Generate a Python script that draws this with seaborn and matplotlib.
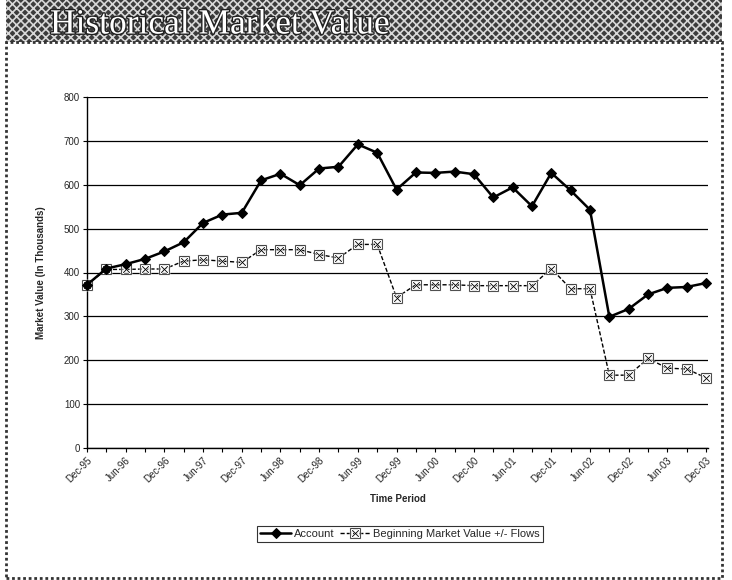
import matplotlib
matplotlib.use('Agg')
import matplotlib.pyplot as plt
import seaborn as sns
import pandas as pd
from matplotlib.patches import Rectangle
import matplotlib.patheffects as pe

quarters = ['Dec-95', 'Mar-96', 'Jun-96', 'Sep-96', 'Dec-96', 'Mar-97', 'Jun-97', 'Sep-97',
            'Dec-97', 'Mar-98', 'Jun-98', 'Sep-98', 'Dec-98', 'Mar-99', 'Jun-99', 'Sep-99',
            'Dec-99', 'Mar-00', 'Jun-00', 'Sep-00', 'Dec-00', 'Mar-01', 'Jun-01', 'Sep-01',
            'Dec-01', 'Mar-02', 'Jun-02', 'Sep-02', 'Dec-02', 'Mar-03', 'Jun-03', 'Sep-03',
            'Dec-03']
account = [372, 409, 419, 431, 448, 469, 513, 532, 536, 610, 625, 599, 637, 641, 692, 673,
           589, 628, 627, 630, 624, 571, 594, 551, 627, 587, 543, 299, 317, 350, 365, 367, 376]
bmv = [372, 407, 407, 408, 408, 426, 429, 426, 423, 452, 452, 452, 441, 433, 464, 464,
       343, 372, 372, 372, 370, 370, 370, 370, 409, 363, 363, 166, 166, 204, 182, 180, 160]
tick_labels = ['Dec-95', 'Jun-96', 'Dec-96', 'Jun-97', 'Dec-97', 'Jun-98', 'Dec-98', 'Jun-99',
               'Dec-99', 'Jun-00', 'Dec-00', 'Jun-01', 'Dec-01', 'Jun-02', 'Dec-02', 'Jun-03',
               'Dec-03']
y_ticks = [0, 100, 200, 300, 400, 500, 600, 700, 800]
series_names = ['Account', 'Beginning Market Value +/- Flows']

sns.set_style('white')
plt.rcParams['font.family'] = ['Liberation Sans', 'DejaVu Sans']
plt.rcParams['hatch.color'] = '#d8d8d8'
plt.rcParams['hatch.linewidth'] = 1.2

df = pd.DataFrame({'q': list(range(len(quarters))) * 2,
                   'value': account + bmv,
                   'series': [series_names[0]] * len(account) + [series_names[1]] * len(bmv)})

W, H = 732, 580
fig = plt.figure(figsize=(W / 100, H / 100), dpi=100)
ax = fig.add_axes([87 / W, (H - 448) / H, 621 / W, 351 / H])

# banner
fig.patches.append(Rectangle((6 / W, 1 - 42 / H), 716 / W, 42 / H, transform=fig.transFigure,
                             facecolor='#3c3c3c', edgecolor='#d8d8d8', hatch='xxxx',
                             linewidth=0, zorder=0))
fig.text(50 / W, 1 - 25 / H, 'Historical Market Value', family='Liberation Serif',
         fontsize=25.5, color='white', va='center', ha='left',
         path_effects=[pe.withStroke(linewidth=2, foreground='#202020')])
# dotted frame
fig.patches.append(Rectangle((6 / W, 2 / H), 716 / W, 1 - 44 / H, transform=fig.transFigure,
                             facecolor='none', edgecolor='#333333', linestyle=(0, (1, 1)),
                             linewidth=2, zorder=0))

sub_a = df[df['series'] == series_names[0]]
sub_b = df[df['series'] == series_names[1]]
sns.lineplot(data=sub_a, x='q', y='value', ax=ax, color='black', linewidth=1.8,
             marker='D', markersize=5.5, markeredgecolor='black', label=series_names[0],
             zorder=4, clip_on=False)
sns.lineplot(data=sub_b, x='q', y='value', ax=ax, color='black', linewidth=1.0,
             linestyle=(0, (3, 1.5)), marker='$\\boxtimes$', markersize=8,
             markeredgewidth=0.4, label=series_names[1], zorder=3, clip_on=False)

ax.set_xlim(0, len(quarters) - 1 + 0.1)
ax.set_ylim(0, 800)
ax.set_yticks(y_ticks)
ax.set_yticklabels([str(v) for v in y_ticks], fontsize=7)
ax.set_xticks(range(0, len(quarters), 2))
ax.set_xticklabels(tick_labels, rotation=45, ha='right', rotation_mode='anchor', fontsize=7)
ax.set_xticks(range(len(quarters)), minor=True)
ax.tick_params(axis='both', which='both', direction='out', length=3, width=0.8, color='black',
               bottom=True, left=True, pad=2)
ax.yaxis.grid(True, color='black', linewidth=0.9)
ax.set_axisbelow(True)
for s in ['top', 'right']:
    ax.spines[s].set_visible(False)
for s in ['left', 'bottom']:
    ax.spines[s].set_color('black')
    ax.spines[s].set_linewidth(1.0)

ax.set_ylabel('Market Value (In Thousands)', fontsize=7, fontweight='bold', labelpad=13)
ax.set_xlabel('Time Period', fontsize=7, fontweight='bold', labelpad=7)

leg = ax.legend(loc='center', bbox_to_anchor=(400 / W, 1 - 534 / H),
                bbox_transform=fig.transFigure, ncol=2, fontsize=8, frameon=True,
                fancybox=False, edgecolor='black', handlelength=2.8, handletextpad=0.2,
                columnspacing=0.5, borderpad=0.3, borderaxespad=0)
leg.get_frame().set_linewidth(0.8)

fig.savefig('out.png', dpi=100, facecolor='white')
